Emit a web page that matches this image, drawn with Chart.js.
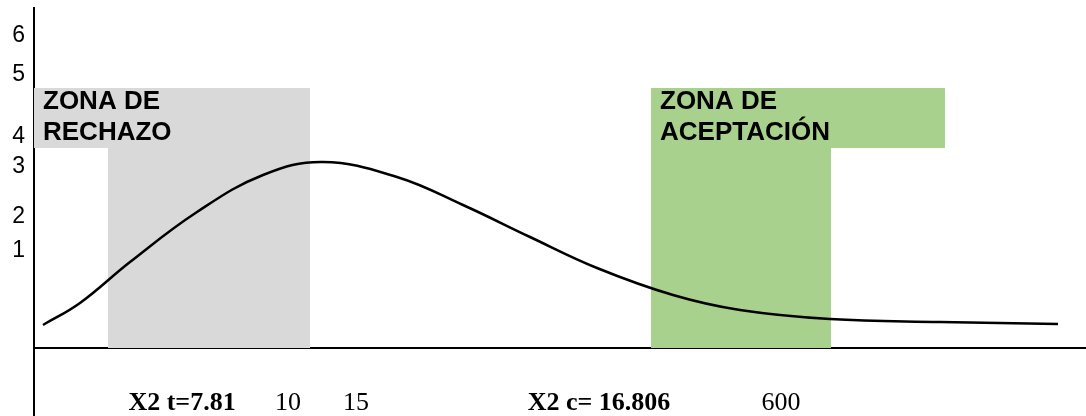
<!DOCTYPE html>
<html>
<head>
<meta charset="utf-8">
<script src="https://cdn.jsdelivr.net/npm/chart.js@4/dist/chart.umd.min.js"></script>
<style>
  body { margin: 0; background: #fff; }
  #wrap { width: 1086px; height: 416px; position: relative; }
</style>
</head>
<body>
<div id="wrap"><canvas id="chart"></canvas></div>
<script>
// curve (x, y)
var curveX = [9, 46, 96, 163, 229, 289, 363, 429, 496, 563, 639, 706, 796, 906, 1024];
var curveY = [23, 45, 86, 136, 173, 186, 171, 143, 111, 80, 53, 38, 29, 26, 24];

// zonas
var zoneNames = [["ZONA DE", "RECHAZO"], ["ZONA DE", "ACEPTACIÓN"]];
var zoneColFrom = [74, 617];
var zoneColTo = [276, 797];
var zoneLabelFrom = [0, 617];
var zoneLabelTo = [276, 911];
var zoneTop = 260;
var zoneLabelBottom = 200;
var zoneColors = ["#d9d9d9", "#a9d18e"];

// ejes
var yTickValues = [312, 273, 211, 181, 131, 97];
var yTickLabels = ["6", "5", "4", "3", "2", "1"];
var xTickValues = [148, 254, 322, 565, 747];
var xTickLabels = ["X2 t=7.81", "10", "15", "X2 c= 16.806", "600"];

var datasets = [];
// la curva va primero para quedar encima
datasets.push({
  data: curveX.map(function (x, i) { return { x: x, y: curveY[i] }; }),
  borderColor: "#000",
  borderWidth: 2.5,
  pointRadius: 0,
  fill: false,
  tension: 0.4,
});
zoneNames.forEach(function (n, i) {
  datasets.push({
    data: [{ x: zoneColFrom[i], y: zoneTop }, { x: zoneColTo[i], y: zoneTop }],
    borderColor: "transparent",
    backgroundColor: zoneColors[i],
    pointRadius: 0,
    fill: "origin",
  });
  datasets.push({
    data: [{ x: zoneLabelFrom[i], y: zoneTop }, { x: zoneLabelTo[i], y: zoneTop }],
    borderColor: "transparent",
    backgroundColor: zoneColors[i],
    pointRadius: 0,
    fill: { value: zoneLabelBottom },
  });
});

// textos de las zonas
var zoneText = {
  id: "zoneText",
  afterDatasetsDraw: function (chart) {
    var ctx = chart.ctx;
    var sx = chart.scales.x, sy = chart.scales.y;
    ctx.save();
    ctx.fillStyle = "#000";
    ctx.font = "bold 26px 'Liberation Sans', Arial, sans-serif";
    ctx.textAlign = "left";
    ctx.textBaseline = "alphabetic";
    zoneNames.forEach(function (lines, i) {
      var x = sx.getPixelForValue(zoneLabelFrom[i]) + 9;
      var y = sy.getPixelForValue(zoneTop) + 21;
      lines.forEach(function (t, j) {
        ctx.fillText(t, x, y + j * 31);
      });
    });
    ctx.restore();
  },
};

var chart = new Chart(document.getElementById("chart"), {
  type: "line",
  data: { datasets: datasets },
  options: {
    responsive: true,
    maintainAspectRatio: false,
    animation: false,
    layout: { padding: { top: 8, left: 0, right: 0, bottom: 0 } },
    plugins: { legend: { display: false }, tooltip: { enabled: false } },
    scales: {
      x: {
        type: "linear",
        min: 0,
        max: 1052,
        position: { y: 0 },
        border: { color: "#000", width: 2 },
        grid: { display: false, drawTicks: false },
        afterFit: function (s) {
          s.height = 0;
          s.paddingLeft = 0;
          s.paddingRight = 0;
        },
        afterBuildTicks: function (s) {
          s.ticks = xTickValues.map(function (v) { return { value: v }; });
        },
        ticks: {
          autoSkip: false,
          maxRotation: 0,
          padding: 40,
          color: "#000",
          font: function (c) {
            var lbl = xTickLabels[c.index] || "";
            return {
              family: "'Liberation Serif', 'Times New Roman', serif",
              size: 26,
              weight: lbl.indexOf("X2") === 0 ? "bold" : "normal",
            };
          },
          callback: function (v, i) { return xTickLabels[i]; },
        },
      },
      y: {
        type: "linear",
        min: -68,
        max: 340,
        position: "left",
        border: { color: "#000", width: 2 },
        grid: { display: false, drawTicks: false },
        afterFit: function (s) {
          s.width = 34;
          s.paddingTop = 0;
          s.paddingBottom = 0;
        },
        afterBuildTicks: function (s) {
          s.ticks = yTickValues.map(function (v) { return { value: v }; });
        },
        ticks: {
          autoSkip: false,
          padding: 9,
          color: "#000",
          font: { family: "'Liberation Sans', Arial, sans-serif", size: 23 },
          callback: function (v, i) { return yTickLabels[i]; },
        },
      },
    },
  },
  plugins: [zoneText],
});
</script>
</body>
</html>
